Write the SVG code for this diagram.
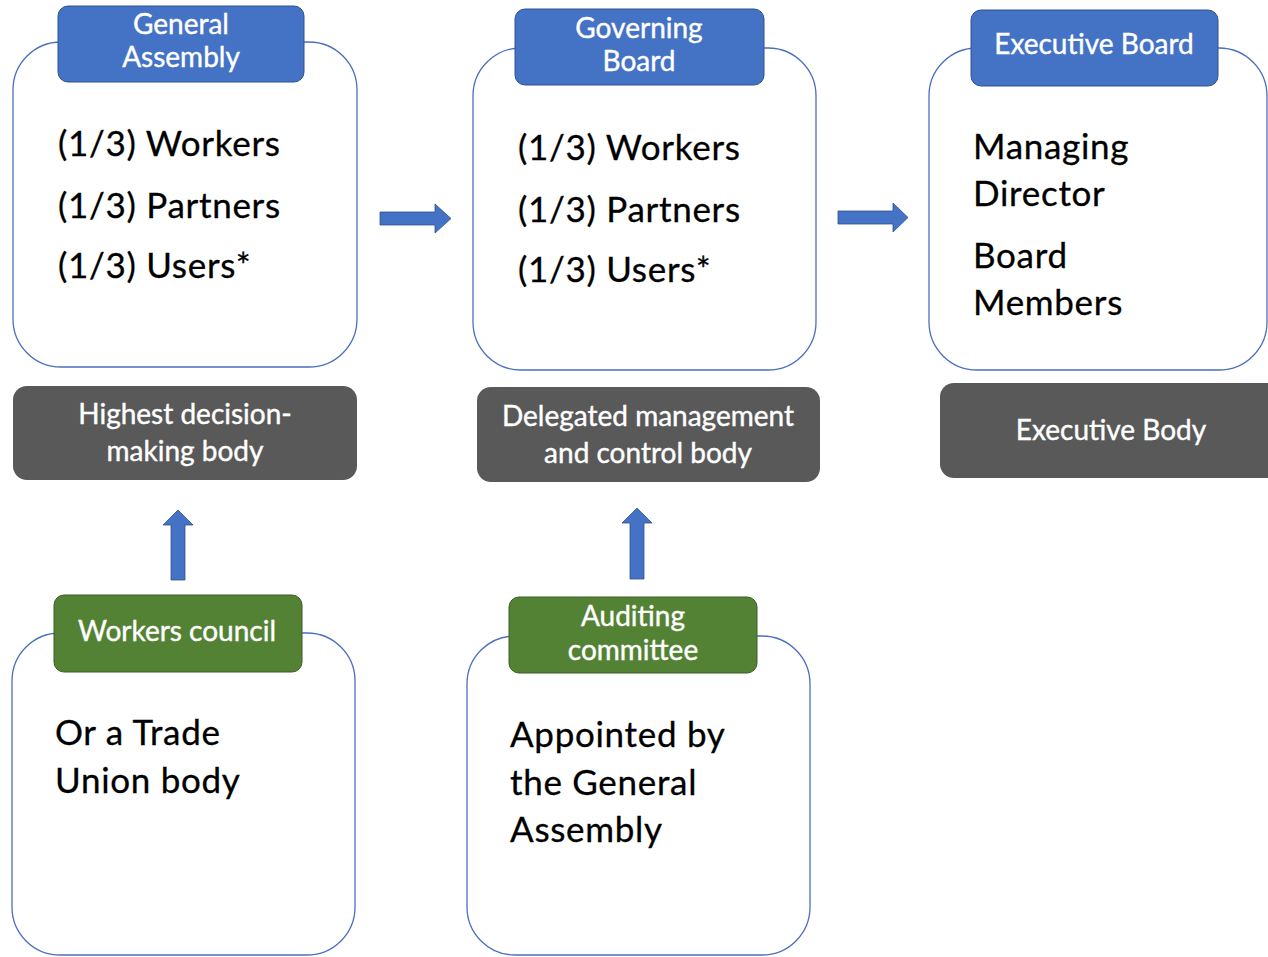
<svg xmlns="http://www.w3.org/2000/svg" width="1268" height="957" viewBox="0 0 1268 957">
<style>
.outer{fill:#fff;stroke:#4a6fbf;stroke-width:1.3}
.hb{fill:#4472c4;stroke:#2f528f;stroke-width:1}
.hg{fill:#548235;stroke:#3a5f25;stroke-width:1}
.gray{fill:#595959}
.ht{font-family:Lato,"Liberation Sans",sans-serif;font-size:28px;fill:#fff;stroke:#fff;stroke-width:0.4;text-anchor:middle}
.gt{font-family:Lato,"Liberation Sans",sans-serif;font-size:28px;fill:#fff;stroke:#fff;stroke-width:0.4;text-anchor:middle}
.bt{font-family:Lato,"Liberation Sans",sans-serif;font-size:35px;letter-spacing:0.7px;fill:#000;stroke:#000;stroke-width:0.3}
.arr{fill:#4472c4;stroke:#2f528f;stroke-width:0.8}
</style>
<rect width="1268" height="957" fill="#fff"/>
<g id="general-assembly">
<rect class="outer" x="13" y="42" width="344" height="325" rx="48"/>
<rect class="hb" x="58" y="6" width="246" height="76" rx="10"/>
<text class="ht" x="181" y="34">General</text>
<text class="ht" x="181" y="67">Assembly</text>
<text class="bt" x="58" y="156">(1/3) Workers</text>
<text class="bt" x="58" y="218">(1/3) Partners</text>
<text class="bt" x="58" y="278">(1/3) Users*</text>
</g>
<g id="governing-board">
<rect class="outer" x="473" y="48" width="343" height="322" rx="48"/>
<rect class="hb" x="515" y="9" width="249" height="76" rx="10"/>
<text class="ht" x="639" y="38">Governing</text>
<text class="ht" x="639" y="71">Board</text>
<text class="bt" x="518" y="160">(1/3) Workers</text>
<text class="bt" x="518" y="222">(1/3) Partners</text>
<text class="bt" x="518" y="282">(1/3) Users*</text>
</g>
<g id="executive-board">
<rect class="outer" x="929" y="48" width="338" height="322" rx="48"/>
<rect class="hb" x="971" y="10" width="247" height="76" rx="10"/>
<text class="ht" x="1094" y="54">Executive Board</text>
<text class="bt" x="973" y="159">Managing</text>
<text class="bt" x="973" y="206">Director</text>
<text class="bt" x="973" y="268">Board</text>
<text class="bt" x="973" y="315">Members</text>
</g>
<g id="highest-body">
<rect class="gray" x="13" y="386" width="344" height="94" rx="14"/>
<text class="gt" x="185" y="424">Highest decision-</text>
<text class="gt" x="185" y="461">making body</text>
</g>
<g id="delegated-body">
<rect class="gray" x="477" y="387" width="343" height="95" rx="14"/>
<text class="gt" x="648" y="426">Delegated management</text>
<text class="gt" x="648" y="463">and control body</text>
</g>
<g id="executive-body">
<rect class="gray" x="940" y="383" width="345" height="95" rx="14"/>
<text class="gt" x="1111" y="440">Executive Body</text>
</g>
<g id="workers-council">
<rect class="outer" x="12" y="633" width="343" height="322" rx="48"/>
<rect class="hg" x="54" y="595" width="248" height="77" rx="10"/>
<text class="ht" x="177" y="641">Workers council</text>
<text class="bt" x="55" y="745">Or a Trade</text>
<text class="bt" x="55" y="793">Union body</text>
</g>
<g id="auditing-committee">
<rect class="outer" x="467" y="636" width="343" height="319" rx="48"/>
<rect class="hg" x="509" y="597" width="248" height="76" rx="10"/>
<text class="ht" x="633" y="626">Auditing</text>
<text class="ht" x="633" y="660">committee</text>
<text class="bt" x="510" y="747">Appointed by</text>
<text class="bt" x="510" y="795">the General</text>
<text class="bt" x="510" y="842">Assembly</text>
</g>
<g id="connectors">
<polygon class="arr" points="380,212 435,212 435,204 451,218.5 435,233 435,225 380,225"/>
<polygon class="arr" points="838,211 893,211 893,203 908,217.5 893,232 893,224 838,224"/>
<polygon class="arr" points="171,580 171,525 163,525 178,510 193,525 185,525 185,580"/>
<polygon class="arr" points="630,579 630,523 622,523 637,508 652,523 644,523 644,579"/>
</g>
</svg>
